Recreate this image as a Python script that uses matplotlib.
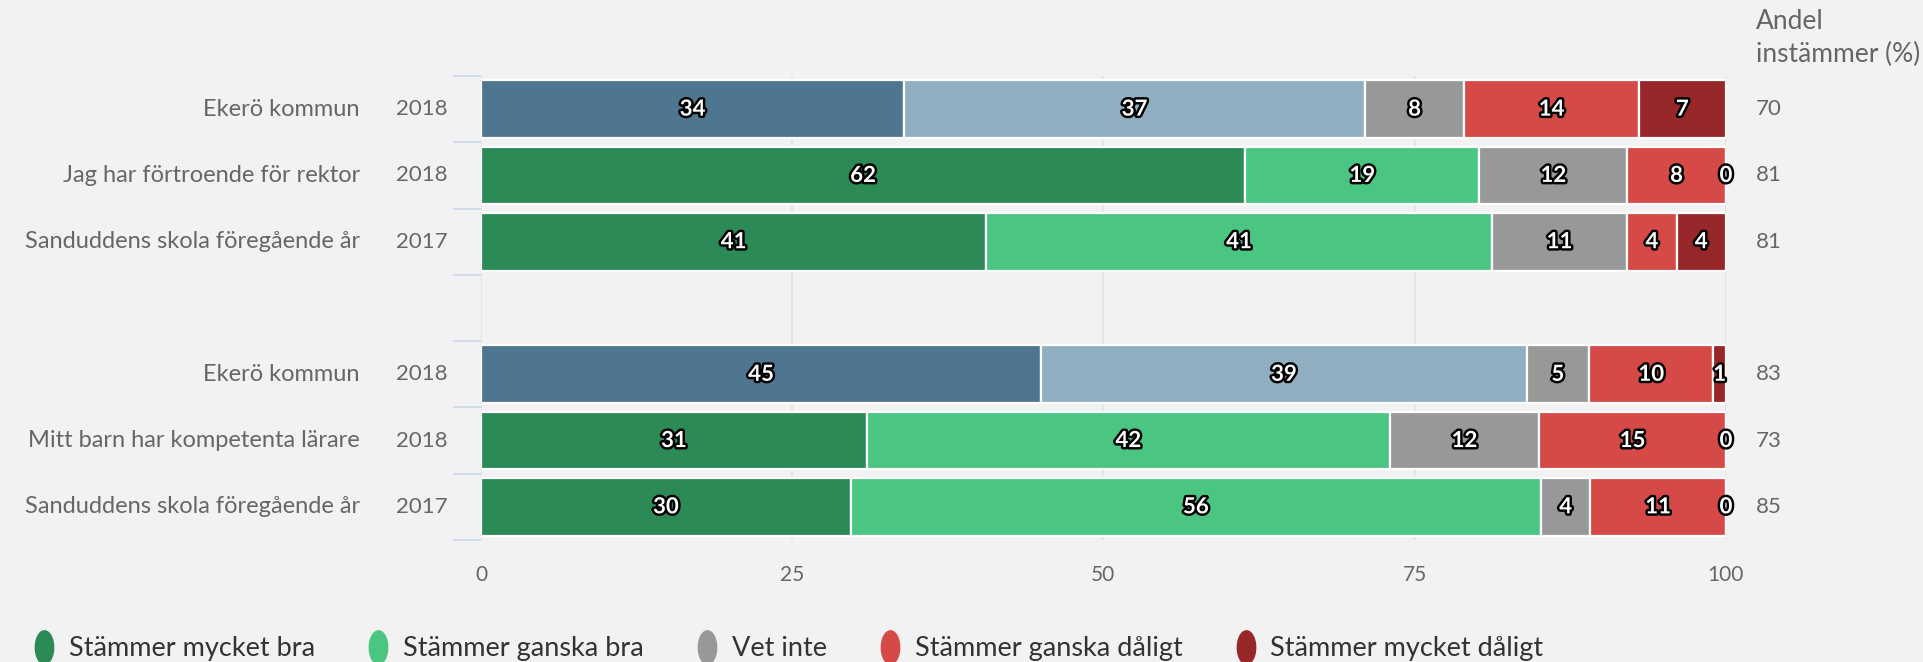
import numpy as np
import matplotlib.pyplot as plt
import matplotlib.patheffects as pe
from matplotlib.path import Path
from matplotlib.lines import Line2D

plt.rcParams['font.family'] = ['Lato', 'DejaVu Sans']

categories = ["Ekerö kommun", "Jag har förtroende för rektor", "Sanduddens skola föregående år", "",
              "Ekerö kommun", "Mitt barn har kompetenta lärare", "Sanduddens skola föregående år"]
years = ["2018", "2018", "2017", "", "2018", "2018", "2017"]
mycket_bra = [34, 62, 41, None, 45, 31, 30]
ganska_bra = [37, 19, 41, None, 39, 42, 56]
vet_inte = [8, 12, 11, None, 5, 12, 4]
ganska_daligt = [14, 8, 4, None, 10, 15, 11]
mycket_daligt = [7, 0, 4, None, 1, 0, 0]
andel = [70, 81, 81, None, 83, 73, 85]
kommun_rows = [0, 4]

series_names = ["Stämmer mycket bra", "Stämmer ganska bra", "Vet inte",
                "Stämmer ganska dåligt", "Stämmer mycket dåligt"]
colors = ["#2b8a56", "#4bc582", "#989898", "#d54a47", "#98272a"]
kommun_colors = ["#4f7690", "#90afc1"]

bg = "#f2f2f2"
fig = plt.figure(figsize=(19.23, 6.62), dpi=100, facecolor=bg)
ax = fig.add_axes([0.2501, 0.1843, 0.6474, 0.7009], facecolor=bg)

series = [mycket_bra, ganska_bra, vet_inte, ganska_daligt, mycket_daligt]
for i in range(len(categories)):
    if mycket_bra[i] is None:
        continue
    vals = [s[i] for s in series]
    total = sum(vals)
    left = 0
    for j, v in enumerate(vals):
        w = v / total * 100
        c = colors[j]
        if i in kommun_rows and j < 2:
            c = kommun_colors[j]
        ax.barh(i, w, left=left, height=0.87, color=c, edgecolor='white', linewidth=1.6, zorder=2)
        ax.text(left + w / 2, i, str(v), ha='center', va='center', color='white',
                fontsize=16, fontweight='bold', zorder=3,
                path_effects=[pe.withStroke(linewidth=3.5, foreground='black')])
        left += w

ax.set_xlim(0, 100)
ax.set_ylim(6.5, -0.5)
ax.set_xticks([0, 25, 50, 75, 100])
ax.tick_params(axis='x', length=0, pad=18, labelsize=15, labelcolor='#666666')
ax.grid(axis='x', color='#e3e3e3', linewidth=1.2, zorder=0)
ax.set_yticks([])
ax.set_yticks(np.arange(-0.5, 7, 1), minor=True)
ax.tick_params(axis='y', which='minor', length=20, width=1.2, color='#ccd6eb', labelleft=False)
for s in ax.spines.values():
    s.set_visible(False)

tr = ax.get_yaxis_transform()
for i, (cat, yr) in enumerate(zip(categories, years)):
    ax.text(-0.0972, i, cat, transform=tr, ha='right', va='center', fontsize=17, color='#666666')
    ax.text(-0.0265, i, yr, transform=tr, ha='right', va='center', fontsize=16, color='#666666')
    if andel[i] is not None:
        ax.text(1.0241, i, str(andel[i]), transform=tr, ha='left', va='center', fontsize=16, color='#666666')

fig.text(0.9132, 0.967, "Andel", ha='left', va='center', fontsize=19, color='#666666')
fig.text(0.9132, 0.917, "instämmer (%)", ha='left', va='center', fontsize=19, color='#666666')

t = np.linspace(0, 2 * np.pi, 60)
ellipse = Path(np.column_stack([0.55 * np.cos(t), np.sin(t)]))
handles = [Line2D([], [], marker=ellipse, linestyle='none', markersize=24,
                  markerfacecolor=c, markeredgecolor=c) for c in colors]
fig.legend(handles, series_names, loc='center left', bbox_to_anchor=(0.004, 0.02), ncol=5,
           frameon=False, fontsize=19.5, labelcolor='#333333', handletextpad=0.45,
           columnspacing=1.9, handlelength=0.9)

fig.savefig('out.png', dpi=100, facecolor=bg)
